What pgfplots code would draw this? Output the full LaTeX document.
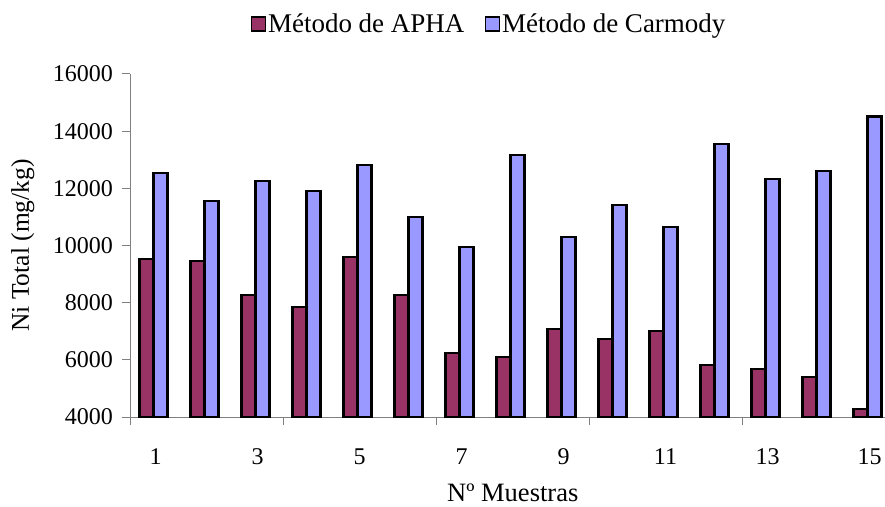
\documentclass[border=0pt]{standalone}
\usepackage{fontspec}
\setmainfont{Liberation Serif}
\usepackage{pgfplots}
\pgfplotsset{compat=1.18}
\definecolor{apha}{HTML}{993366}
\definecolor{carm}{HTML}{9999FF}
\definecolor{axgray}{HTML}{808080}
\begin{document}
\begin{tikzpicture}
\path[use as bounding box] (0pt,0pt) rectangle (885pt,506pt);
\begin{axis}[
  at={(130pt,89pt)}, anchor=south west,
  scale only axis, width=755pt, height=343pt,
  xmin=0.5, xmax=15.304, ymin=4000, ymax=16000,
  axis x line*=bottom, axis y line*=left,
  axis line style={axgray, line width=1pt},
  ytick={4000,6000,...,16000},
  xtick={1,3,...,15},
  xtick style={draw=none},
  extra x ticks={0.5,3.5,6.5,9.5,12.5},
  extra x tick labels={},
  extra x tick style={xtick style={draw=axgray, line width=1pt}},
  ytick style={draw=axgray, line width=1pt},
  tick align=outside,
  major tick length=8pt,
  scaled y ticks=false,
  /pgf/number format/assume math mode=true,
  /pgf/number format/set thousands separator={},
  ticklabel style={font=\fontsize{24}{28}\selectfont},
  yticklabel style={anchor=east, inner sep=0pt, xshift=-9pt},
  xticklabel style={anchor=base, inner sep=0pt, yshift=-39pt},
  xlabel={Nº Muestras},
  xlabel style={at={(axis description cs:0.507,-0.245)}, anchor=base, font=\fontsize{26.5}{30}\selectfont, inner sep=0pt},
  ylabel={Ni Total (mg/kg)},
  ylabel style={at={(axis description cs:-0.1338,0.5)}, anchor=base, font=\fontsize{25.5}{30}\selectfont, inner sep=0pt},
  legend columns=2,
  legend style={at={(axis description cs:0.4755,1.146)}, anchor=center, draw=none, fill=none,
    font=\fontsize{27}{30}\selectfont, inner sep=0pt,
    /tikz/every even column/.append style={column sep=18pt}},
  legend image code/.code={\draw[#1, line width=1.5pt] (-6pt,-7pt) rectangle (8pt,7pt);},
]
\addplot[ybar, bar width=14pt, bar shift=-9pt, fill=apha, draw=black, line width=2.2pt]
  coordinates {(1,9530) (2,9460) (3,8270) (4,7850) (5,9610) (6,8270) (7,6230) (8,6100)
               (9,7080) (10,6730) (11,7010) (12,5820) (13,5680) (14,5400) (15,4280)};
\addlegendentry{Método de APHA}
\addplot[ybar, bar width=14pt, bar shift=5pt, fill=carm, draw=black, line width=2.2pt]
  coordinates {(1,12550) (2,11570) (3,12270) (4,11920) (5,12820) (6,11010) (7,9960) (8,13170)
               (9,10310) (10,11420) (11,10660) (12,13540) (13,12330) (14,12610) (15,14510)};
\addlegendentry{Método de Carmody}
\end{axis}
\end{tikzpicture}
\end{document}
